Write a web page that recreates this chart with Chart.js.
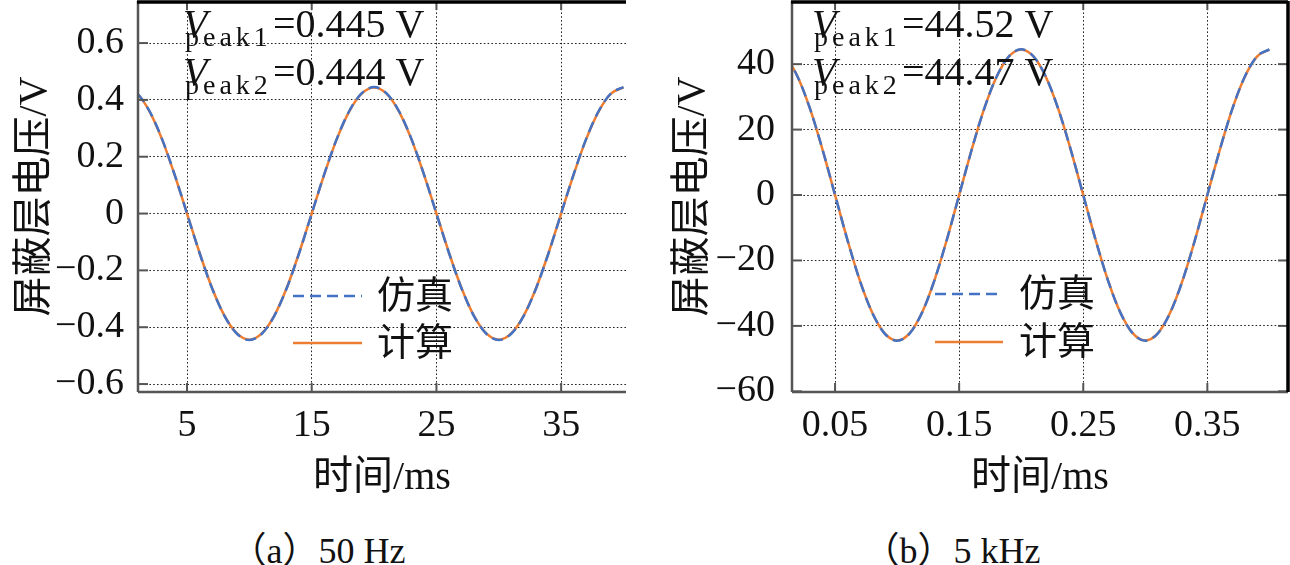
<!DOCTYPE html>
<html><head><meta charset="utf-8">
<script src="https://cdn.jsdelivr.net/npm/chart.js@4.4.1/dist/chart.umd.min.js"></script>
<style>
html,body{margin:0;padding:0;background:#fff;width:1290px;height:565px;overflow:hidden;}
.wrap{position:absolute;top:0;width:645px;height:510px;}
.cap{position:absolute;top:528px;font-size:36px;font-family:'Liberation Serif','Noto Sans CJK SC',serif;color:#111;white-space:nowrap;transform:translateX(-50%);line-height:46px;}
</style></head><body>
<div class="wrap" style="left:0"><canvas id="c1" width="645" height="510"></canvas></div>
<div class="wrap" style="left:645px"><canvas id="c2" width="645" height="510"></canvas></div>
<div class="cap" style="left:318px">（a）50 Hz</div>
<div class="cap" style="left:952px">（b）5 kHz</div>
<script>
// ---- data ----
const seriesNames = ['仿真', '计算'];
const xTitle = '时间/ms';
const yTitle = '屏蔽层电压/V';

// (a) 50 Hz, time in ms
const timeA = [0,1,2,3,4,5,6,7,8,9,10,11,12,13,14,15,16,17,18,19,20,21,22,23,24,25,26,27,28,29,30,31,32,33,34,35,36,37,38,39,40];
const simA  = [0.445,0.423,0.360,0.262,0.138,0,-0.138,-0.262,-0.360,-0.423,-0.445,-0.423,-0.360,-0.262,-0.138,0,0.138,0.262,0.360,0.423,0.445,0.423,0.360,0.262,0.138,0,-0.138,-0.262,-0.360,-0.423,-0.445,-0.423,-0.360,-0.262,-0.138,0,0.138,0.262,0.360,0.423,0.445];
const calcA = [0.444,0.422,0.359,0.261,0.137,0,-0.137,-0.261,-0.359,-0.422,-0.444,-0.422,-0.359,-0.261,-0.137,0,0.137,0.261,0.359,0.422,0.444,0.422,0.359,0.261,0.137,0,-0.137,-0.261,-0.359,-0.422,-0.444,-0.422,-0.359,-0.261,-0.137,0,0.137,0.261,0.359,0.422,0.444];
const xTicksA = [5,15,25,35];
const yTicksA = [-0.6,-0.4,-0.2,0,0.2,0.4,0.6];
const peaksA = ['=0.445 V', '=0.444 V'];

// (b) 5 kHz, time in ms
const timeB = [0,0.01,0.02,0.03,0.04,0.05,0.06,0.07,0.08,0.09,0.10,0.11,0.12,0.13,0.14,0.15,0.16,0.17,0.18,0.19,0.20,0.21,0.22,0.23,0.24,0.25,0.26,0.27,0.28,0.29,0.30,0.31,0.32,0.33,0.34,0.35,0.36,0.37,0.38,0.39,0.40];
const simB  = [44.52,42.34,36.02,26.17,13.76,0,-13.76,-26.17,-36.02,-42.34,-44.52,-42.34,-36.02,-26.17,-13.76,0,13.76,26.17,36.02,42.34,44.52,42.34,36.02,26.17,13.76,0,-13.76,-26.17,-36.02,-42.34,-44.52,-42.34,-36.02,-26.17,-13.76,0,13.76,26.17,36.02,42.34,44.52];
const calcB = [44.47,42.29,35.98,26.15,13.74,0,-13.74,-26.15,-35.98,-42.29,-44.47,-42.29,-35.98,-26.15,-13.74,0,13.74,26.15,35.98,42.29,44.47,42.29,35.98,26.15,13.74,0,-13.74,-26.15,-35.98,-42.29,-44.47,-42.29,-35.98,-26.15,-13.74,0,13.74,26.15,35.98,42.29,44.47];
const xTicksB = [0.05,0.15,0.25,0.35];
const yTicksB = [-60,-40,-20,0,20,40];
const peaksB = ['=44.52 V', '=44.47 V'];
const peakSubs = ['peak1', 'peak2'];

// ---- styling ----
const SERIF = "'Liberation Serif','Noto Sans CJK SC',serif";
const TXT = '#111';
const BLUE = '#4472C4', ORANGE = '#ED7D31';

const deco = {
  id: 'deco',
  afterDatasetsDraw(chart, args, o) {
    const {ctx, chartArea: a, scales: {x, y}} = chart;
    const line = (x1, y1, x2, y2) => { ctx.beginPath(); ctx.moveTo(x1, y1); ctx.lineTo(x2, y2); ctx.stroke(); };
    ctx.save();
    ctx.setLineDash([]);
    // inward tick marks
    ctx.strokeStyle = '#555'; ctx.lineWidth = 2;
    x.ticks.forEach(t => { const p = x.getPixelForValue(t.value); line(p, a.bottom, p, a.bottom - 9); line(p, a.top, p, a.top + 9); });
    y.ticks.forEach(t => { const p = y.getPixelForValue(t.value); line(a.left, p, a.left + 10, p); if (o.rightBorder) line(a.right, p, a.right - 10, p); });
    // frame
    ctx.strokeStyle = '#555'; ctx.lineWidth = 2.5;
    line(a.left, a.top, a.left, a.bottom);
    line(a.left, a.bottom, a.right, a.bottom);
    ctx.strokeStyle = '#000'; ctx.lineWidth = 3.5;
    line(a.left - 1, a.top + 1, a.right, a.top + 1);
    if (o.rightBorder) line(a.right, a.top, a.right, a.bottom);
    // peak annotations
    ctx.fillStyle = TXT; ctx.textAlign = 'left'; ctx.textBaseline = 'alphabetic';
    o.peaks.forEach((val, i) => {
      const x0 = a.left + o.annDx, base = o.annBase[i];
      ctx.font = "italic 40px 'Liberation Serif'";
      ctx.fillText('V', x0, base);
      ctx.font = "28px 'Liberation Serif'";
      ctx.letterSpacing = '4px';
      ctx.fillText(peakSubs[i], x0 + 2, base + 9);
      ctx.letterSpacing = '0px';
      ctx.font = "40px 'Liberation Serif'";
      ctx.fillText(val, x0 + o.valDx, base);
    });
    // legend
    chart.data.datasets.forEach((ds, i) => {
      const yy = o.legYs[i];
      ctx.strokeStyle = ds.borderColor; ctx.lineWidth = 2.5;
      ctx.setLineDash(ds.borderDash || []);
      line(a.left + o.legDx, yy, a.left + o.legDx + o.legLen, yy);
      ctx.setLineDash([]);
      ctx.font = '38px ' + SERIF; ctx.textBaseline = 'middle'; ctx.fillStyle = TXT;
      ctx.fillText(ds.label, a.left + o.legTx, yy + 2);
    });
    ctx.restore();
  }
};

function minusFmt(v, dec) {
  if (v === 0) return '0';
  return (v < 0 ? '\u2212' : '') + Math.abs(v).toFixed(dec);
}

function makeChart(id, cfg) {
  const pts = (xs, ys) => xs.map((t, i) => ({x: t, y: ys[i]}));
  const tickFont = {family: SERIF, size: 38, lineHeight: 1.2};
  const titleFont = {family: SERIF, size: 40, lineHeight: 1.2};
  return new Chart(document.getElementById(id), {
    type: 'line',
    data: {
      datasets: [
        {label: seriesNames[0], data: pts(cfg.time, cfg.sim), borderColor: BLUE, borderWidth: 2.5, borderDash: [11, 6], pointRadius: 0, cubicInterpolationMode: 'monotone', fill: false},
        {label: seriesNames[1], data: pts(cfg.time, cfg.calc), borderColor: ORANGE, borderWidth: 2.5, pointRadius: 0, cubicInterpolationMode: 'monotone', fill: false}
      ]
    },
    options: {
      responsive: false, animation: false, parsing: true,
      layout: {padding: cfg.pad},
      plugins: {legend: {display: false}, tooltip: {enabled: false}, deco: cfg.deco},
      scales: {
        x: {
          type: 'linear', min: cfg.xmin, max: cfg.xmax,
          afterBuildTicks: s => { s.ticks = cfg.xTicks.map(v => ({value: v})); },
          afterFit: s => { s.height = 118; s.paddingLeft = 0; s.paddingRight = 0; s.paddingTop = 0; s.paddingBottom = 0; },
          grid: {color: '#222', lineWidth: 1, drawTicks: false},
          border: {display: false, dash: [1.6, 2.2]},
          ticks: {padding: 11, font: tickFont, color: TXT, maxRotation: 0, autoSkip: false, callback: v => cfg.xFmt(v)},
          title: {display: true, text: xTitle, font: titleFont, color: TXT, padding: {top: 0, bottom: 8}}
        },
        y: {
          type: 'linear', min: cfg.ymin, max: cfg.ymax,
          afterBuildTicks: s => { s.ticks = cfg.yTicks.map(v => ({value: v})); },
          afterFit: s => { s.width = cfg.yW; s.paddingLeft = 0; s.paddingRight = 0; s.paddingTop = 0; s.paddingBottom = 0; },
          grid: {color: '#222', lineWidth: 1, drawTicks: false},
          border: {display: false, dash: [1.6, 2.2]},
          ticks: {padding: cfg.yPad, font: tickFont, color: TXT, autoSkip: false, callback: v => cfg.yFmt(v)},
          title: {display: true, text: yTitle, font: titleFont, color: TXT, padding: {top: cfg.yTitlePad, bottom: 0}}
        }
      }
    },
    plugins: [deco]
  });
}

makeChart('c1', {
  time: timeA, sim: simA, calc: calcA, xTicks: xTicksA, yTicks: yTicksA,
  xmin: 1.07, xmax: 40.2, ymin: -0.628, ymax: 0.748,
  xFmt: v => String(v), yFmt: v => minusFmt(v, 1),
  pad: {left: 0, right: 19, top: 1, bottom: 0}, yW: 138, yPad: 14, yTitlePad: 11,
  deco: {rightBorder: false, peaks: peaksA, annDx: 45, valDx: 90, annBase: [37, 85],
         legDx: 155, legLen: 69, legTx: 239, legYs: [296, 343]}
});

makeChart('c2', {
  time: timeB, sim: simB, calc: calcB, xTicks: xTicksB, yTicks: yTicksB,
  xmin: 0.0153, xmax: 0.415, ymin: -60.2, ymax: 59.3,
  xFmt: v => v.toFixed(2), yFmt: v => minusFmt(v, 0),
  pad: {left: 0, right: 2, top: 1, bottom: 0}, yW: 147, yPad: 17, yTitlePad: 24,
  deco: {rightBorder: true, peaks: peaksB, annDx: 20, valDx: 90, annBase: [37, 85],
         legDx: 143, legLen: 68, legTx: 227, legYs: [294, 342]}
});
</script>
</body></html>
